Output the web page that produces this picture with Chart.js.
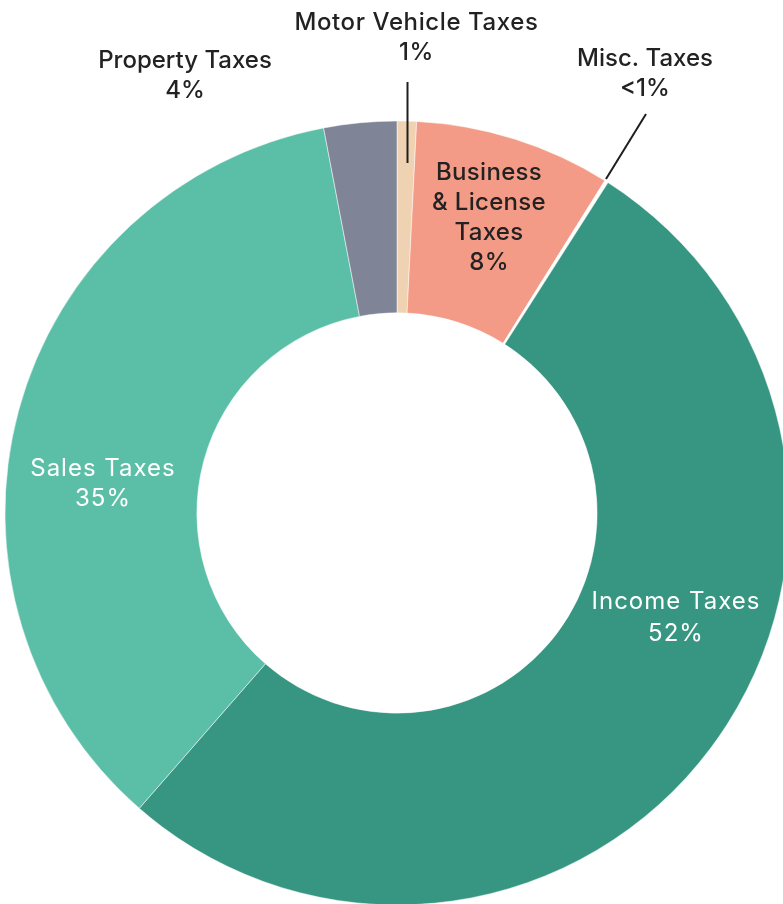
<!DOCTYPE html>
<html>
<head>
<meta charset="utf-8">
<script src="https://cdn.jsdelivr.net/npm/chart.js@4"></script>
<style>
  html, body { margin: 0; padding: 0; background: #fff; overflow: hidden; width: 783px; height: 904px; }
  #wrap { position: absolute; left: 0; top: 0; width: 800px; height: 910px; }
</style>
</head>
<body>
<div id="wrap"><canvas id="taxChart"></canvas></div>
<script>
const categories = ['Motor Vehicle Taxes', 'Business & License Taxes', 'Misc. Taxes', 'Income Taxes', 'Sales Taxes', 'Property Taxes'];
const shares = [0.8, 8.1, 0.15, 52.4, 35.6, 3.0];
const shareLabels = ['1%', '8%', '<1%', '52%', '35%', '4%'];
const colors = ['#EFD2B2', '#F39B86', '#FFFFFF', '#379682', '#5BBEA6', '#808497'];

// how each category label is broken into lines
const labelLines = [
  ['Motor Vehicle Taxes'],
  ['Business', '& License', 'Taxes'],
  ['Misc. Taxes'],
  ['Income Taxes'],
  ['Sales Taxes'],
  ['Property Taxes']
];

// label placement, offsets from the chart centre (px)
const labelStyle = [
  { dx: 19.5, dy: -483, color: '#222', weight: 500, ls: 0.6, line: [10.5, -431, 10.5, -350] },
  { dx: 92, dy: -333, color: '#222', weight: 500, ls: 0.3 },
  { dx: 248, dy: -447, color: '#222', weight: 500, ls: 0, line: [249, -399, 209, -334] },
  { dx: 279, dy: 96, color: '#fff', weight: 400, ls: 1, lh: 31.5 },
  { dx: -294, dy: -37, color: '#fff', weight: 400, ls: 1 },
  { dx: -212, dy: -445, color: '#222', weight: 500, ls: 0 }
];

const sliceLabels = {
  id: 'sliceLabels',
  afterDraw(chart) {
    const ctx = chart.ctx;
    const arc = chart.getDatasetMeta(0).data[0];
    const cx = arc.x, cy = arc.y;
    ctx.save();
    labelStyle.forEach((s, i) => {
      if (s.line) {
        ctx.beginPath();
        ctx.moveTo(cx + s.line[0], cy + s.line[1]);
        ctx.lineTo(cx + s.line[2], cy + s.line[3]);
        ctx.strokeStyle = '#1e1e1e';
        ctx.lineWidth = 2;
        ctx.stroke();
      }
      const lines = labelLines[i].concat([shareLabels[i]]);
      const lh = s.lh || 30;
      ctx.fillStyle = s.color;
      ctx.font = s.weight + ' 24px Inter';
      ctx.letterSpacing = s.ls + 'px';
      ctx.textAlign = 'center';
      ctx.textBaseline = 'alphabetic';
      lines.forEach((t, k) => {
        ctx.fillText(t, cx + s.dx, cy + s.dy + k * lh);
      });
    });
    ctx.restore();
  }
};

new Chart(document.getElementById('taxChart'), {
  type: 'doughnut',
  data: {
    labels: categories,
    datasets: [{
      data: shares,
      backgroundColor: colors,
      borderColor: '#ffffff',
      borderWidth: 0.5
    }]
  },
  options: {
    responsive: true,
    maintainAspectRatio: false,
    animation: false,
    radius: 392,
    cutout: 200,
    layout: { padding: { left: 5, top: 121, right: 11, bottom: 5 } },
    plugins: {
      legend: { display: false },
      tooltip: { enabled: false }
    }
  },
  plugins: [sliceLabels]
});
</script>
</body>
</html>
